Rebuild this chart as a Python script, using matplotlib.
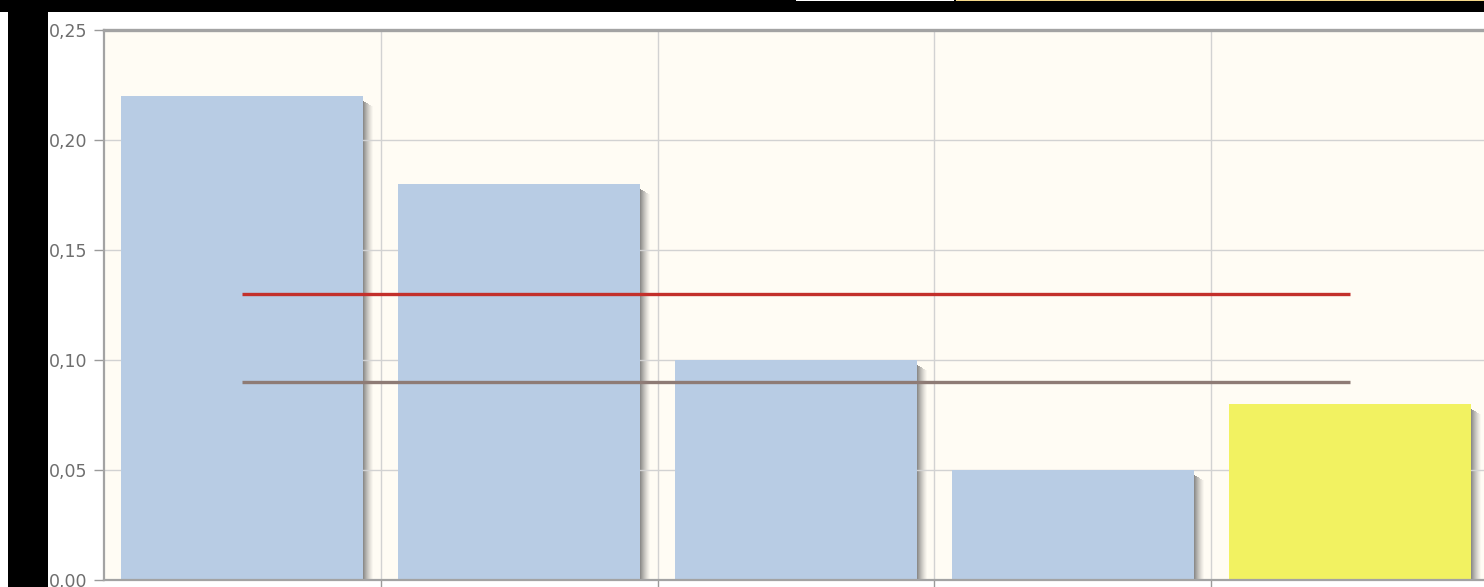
import numpy as np
import matplotlib
matplotlib.use("Agg")
import matplotlib.pyplot as plt
from matplotlib.patches import Rectangle
from matplotlib.ticker import FuncFormatter, FixedLocator

# Data
categories = ["A", "B", "C", "D", "E"]
values = [0.22, 0.18, 0.10, 0.05, 0.08]
bar_colors = ["#b8cce4", "#b8cce4", "#b8cce4", "#b8cce4", "#f2f261"]
line_red = 0.13
line_grey = 0.09
y_ticks = [0.00, 0.05, 0.10, 0.15, 0.20, 0.25]

W, H = 1484, 587
fig = plt.figure(figsize=(W / 100, H / 100), dpi=100)
fig.patch.set_facecolor("white")

# screenshot frame (black strips)
fig.patches.append(Rectangle((0, 1 - 12 / H), 1, 12 / H, transform=fig.transFigure,
                             facecolor="black", edgecolor="none", zorder=0))
fig.patches.append(Rectangle((8 / W, 0), 40 / W, 1, transform=fig.transFigure,
                             facecolor="black", edgecolor="none", zorder=0))
fig.patches.append(Rectangle((796 / W, 1 - 1.2 / H), 158 / W, 1.2 / H, transform=fig.transFigure,
                             facecolor="white", edgecolor="none", zorder=1))
fig.patches.append(Rectangle((956 / W, 1 - 1.2 / H), (W - 956) / W, 1.2 / H, transform=fig.transFigure,
                             facecolor="#f5d98a", edgecolor="none", zorder=1))

left, right, top, bottom = 104, 1488, 30, 580
ax = fig.add_axes([left / W, (H - bottom) / H, (right - left) / W, (bottom - top) / H])
ax.set_facecolor("#fffcf4")

x = np.arange(len(categories))
bw = 0.874
px = 1.0 / 276.8  # one pixel in data units along x
py = 0.25 / 550   # one pixel in data units along y

# soft shadows to the right of each bar
n_sh = 10
for xi, v in zip(x, values):
    for k in range(n_sh):
        a = 0.75 * (1 - k / n_sh) ** 1.3
        ax.add_patch(Rectangle((xi + bw / 2 + k * px, 0), px, v - (5 + k * 0.6) * py,
                               facecolor="#666666", edgecolor="none", alpha=a, zorder=0.5))

ax.bar(x, values, width=bw, color=bar_colors, edgecolor="none", zorder=2)

ax.plot([x[0], x[-1]], [line_red, line_red], color="#c3302b", lw=2.4, zorder=3,
        solid_capstyle="butt")
ax.plot([x[0], x[-1]], [line_grey, line_grey], color="#8e7b75", lw=2.4, zorder=3,
        solid_capstyle="butt")

ax.set_xlim(-0.5, len(categories) - 0.5)
ax.set_ylim(0, 0.25)

ax.yaxis.set_major_locator(FixedLocator(y_ticks))
ax.yaxis.set_major_formatter(FuncFormatter(lambda v, p: f"{v:.2f}".replace(".", ",")))
ax.xaxis.set_major_locator(FixedLocator(x[:-1] + 0.5))
ax.set_xticklabels([])

ax.grid(True, color="#d2d2d2", lw=1.0, zorder=1)
ax.set_axisbelow(True)

ax.tick_params(axis="y", length=7, width=1, color="#9a9a9a", labelcolor="#6e6e6e",
               labelsize=12.5, pad=5)
ax.tick_params(axis="x", length=6, width=1, color="#9a9a9a")

ax.spines["top"].set_color("#a3a3a3")
ax.spines["top"].set_linewidth(2.4)
for s in ["left", "bottom"]:
    ax.spines[s].set_color("#a3a3a3")
    ax.spines[s].set_linewidth(1.6)
ax.spines["right"].set_visible(False)

fig.savefig("out.png", dpi=100)
